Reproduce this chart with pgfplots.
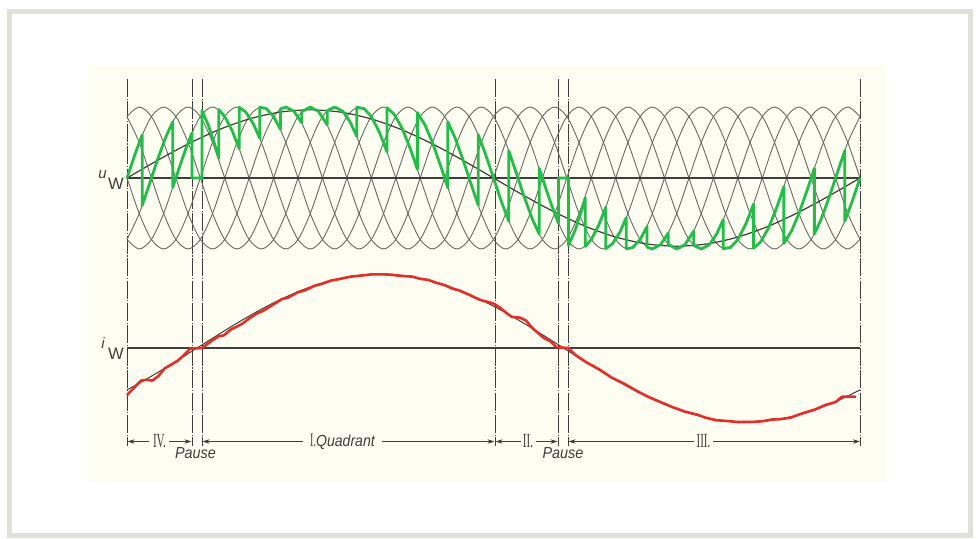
\documentclass[border=0pt]{standalone}
\usepackage{pgfplots}
\pgfplotsset{compat=1.18}
\usepackage{pgfplotstable}
\usepackage{graphicx}
\usepackage{fontspec}
\setmainfont{Liberation Serif}
\setsansfont{Liberation Sans}
\usetikzlibrary{arrows.meta}
\definecolor{frame}{RGB}{224,225,217}
\definecolor{cream}{RGB}{253,253,242}
\definecolor{latt}{RGB}{105,105,100}
\definecolor{grn}{RGB}{34,190,72}
\definecolor{rd}{RGB}{228,46,40}
\definecolor{ink}{RGB}{62,62,60}

% six phase voltages of the supply (amplitude 1), x in output degrees
\pgfplotstableread{
x k0 k1 k2 k3 k4 k5
0 0 -0.866 -0.866 0 0.866 0.866
6 0.5 -0.5 -1 -0.5 0.5 1
12 0.866 0 -0.866 -0.866 0 0.866
18 1 0.5 -0.5 -1 -0.5 0.5
24 0.866 0.866 0 -0.866 -0.866 0
30 0.5 1 0.5 -0.5 -1 -0.5
36 0 0.866 0.866 0 -0.866 -0.866
42 -0.5 0.5 1 0.5 -0.5 -1
48 -0.866 0 0.866 0.866 0 -0.866
54 -1 -0.5 0.5 1 0.5 -0.5
60 -0.866 -0.866 0 0.866 0.866 0
66 -0.5 -1 -0.5 0.5 1 0.5
72 0 -0.866 -0.866 0 0.866 0.866
78 0.5 -0.5 -1 -0.5 0.5 1
84 0.866 0 -0.866 -0.866 0 0.866
90 1 0.5 -0.5 -1 -0.5 0.5
96 0.866 0.866 0 -0.866 -0.866 0
102 0.5 1 0.5 -0.5 -1 -0.5
108 0 0.866 0.866 0 -0.866 -0.866
114 -0.5 0.5 1 0.5 -0.5 -1
120 -0.866 0 0.866 0.866 0 -0.866
126 -1 -0.5 0.5 1 0.5 -0.5
132 -0.866 -0.866 0 0.866 0.866 0
138 -0.5 -1 -0.5 0.5 1 0.5
144 0 -0.866 -0.866 0 0.866 0.866
150 0.5 -0.5 -1 -0.5 0.5 1
156 0.866 0 -0.866 -0.866 0 0.866
162 1 0.5 -0.5 -1 -0.5 0.5
168 0.866 0.866 0 -0.866 -0.866 0
174 0.5 1 0.5 -0.5 -1 -0.5
180 0 0.866 0.866 0 -0.866 -0.866
186 -0.5 0.5 1 0.5 -0.5 -1
192 -0.866 0 0.866 0.866 0 -0.866
198 -1 -0.5 0.5 1 0.5 -0.5
204 -0.866 -0.866 0 0.866 0.866 0
210 -0.5 -1 -0.5 0.5 1 0.5
216 0 -0.866 -0.866 0 0.866 0.866
222 0.5 -0.5 -1 -0.5 0.5 1
228 0.866 0 -0.866 -0.866 0 0.866
234 1 0.5 -0.5 -1 -0.5 0.5
240 0.866 0.866 0 -0.866 -0.866 0
246 0.5 1 0.5 -0.5 -1 -0.5
252 0 0.866 0.866 0 -0.866 -0.866
258 -0.5 0.5 1 0.5 -0.5 -1
264 -0.866 0 0.866 0.866 0 -0.866
270 -1 -0.5 0.5 1 0.5 -0.5
276 -0.866 -0.866 0 0.866 0.866 0
282 -0.5 -1 -0.5 0.5 1 0.5
288 0 -0.866 -0.866 0 0.866 0.866
294 0.5 -0.5 -1 -0.5 0.5 1
300 0.866 0 -0.866 -0.866 0 0.866
306 1 0.5 -0.5 -1 -0.5 0.5
312 0.866 0.866 0 -0.866 -0.866 0
318 0.5 1 0.5 -0.5 -1 -0.5
324 0 0.866 0.866 0 -0.866 -0.866
330 -0.5 0.5 1 0.5 -0.5 -1
336 -0.866 0 0.866 0.866 0 -0.866
342 -1 -0.5 0.5 1 0.5 -0.5
348 -0.866 -0.866 0 0.866 0.866 0
354 -0.5 -1 -0.5 0.5 1 0.5
360 0 -0.866 -0.866 0 0.866 0.866
}\lattice

\pgfplotsset{full/.style={width=489pt,height=268.5pt,scale only axis,
  at={(0,0)},anchor=south west,hide axis,clip=false}}
\tikzset{vl/.style={ink,line width=0.45pt,dash pattern=on 9pt off 0.8pt on 0.6pt off 0.8pt},
  arr/.style={ink,line width=0.4pt,-{Stealth[length=3.5pt,width=2.2pt]}},
  num/.style={text=ink,font=\rmfamily\fontsize{10}{11}\selectfont}}

\begin{document}
\begin{tikzpicture}
% ---------- pixel frame: decorations and text ----------
\begin{axis}[full,xmin=0,xmax=978,ymin=-537,ymax=0]
\fill[white] (axis cs:0,0) rectangle (axis cs:978,-537);
\draw[frame,line width=2.5pt] (axis cs:9.5,-11.5) rectangle (axis cs:970.5,-535.5);
\fill[cream] (axis cs:88,-66) rectangle (axis cs:887,-482);
\draw[vl] (axis cs:127,-79) -- (axis cs:127,-446);
\draw[vl] (axis cs:192,-79) -- (axis cs:192,-446);
\draw[vl] (axis cs:202,-79) -- (axis cs:202,-446);
\draw[vl] (axis cs:495,-79) -- (axis cs:495,-446);
\draw[vl] (axis cs:558,-79) -- (axis cs:558,-446);
\draw[vl] (axis cs:568,-79) -- (axis cs:568,-446);
\draw[vl] (axis cs:860.5,-79) -- (axis cs:860.5,-446);
\draw[arr] (axis cs:149,-441.5) -- (axis cs:127.5,-441.5);
\draw[arr] (axis cs:169,-441.5) -- (axis cs:191.5,-441.5);
\draw[arr] (axis cs:303,-441.5) -- (axis cs:202.5,-441.5);
\draw[arr] (axis cs:382,-441.5) -- (axis cs:494.5,-441.5);
\draw[arr] (axis cs:521,-441.5) -- (axis cs:495.5,-441.5);
\draw[arr] (axis cs:536,-441.5) -- (axis cs:557.5,-441.5);
\draw[arr] (axis cs:694,-441.5) -- (axis cs:568.5,-441.5);
\draw[arr] (axis cs:713,-441.5) -- (axis cs:860,-441.5);
\node[num] at (axis cs:159.5,-441.5) {\scalebox{0.55}[1]{IV.}};
\node[num] at (axis cs:528,-441.5) {\scalebox{0.55}[1]{II.}};
\node[num] at (axis cs:703.5,-441.5) {\scalebox{0.55}[1]{III.}};
\node[text=ink,font=\fontsize{8}{9}\selectfont] at (axis cs:342.5,-441.5) {\scalebox{0.88}[1]{\rmfamily\fontsize{9.5}{10}\selectfont\scalebox{0.6}[1]{I.}\sffamily\itshape\fontsize{8}{9}\selectfont Quadrant}};
\node[text=ink,font=\sffamily\itshape\fontsize{8}{9}\selectfont] at (axis cs:195.5,-453) {\scalebox{0.9}[1]{Pause}};
\node[text=ink,font=\sffamily\itshape\fontsize{8}{9}\selectfont] at (axis cs:563,-453) {\scalebox{0.9}[1]{Pause}};
\node[text=ink,font=\sffamily\itshape\fontsize{7.5}{8}\selectfont] at (axis cs:102.5,-175) {u};
\node[text=ink,font=\sffamily\fontsize{8.3}{9}\selectfont] at (axis cs:116,-184) {W};
\node[text=ink,font=\sffamily\itshape\fontsize{7.5}{8}\selectfont] at (axis cs:103,-343.5) {i};
\node[text=ink,font=\sffamily\fontsize{8.3}{9}\selectfont] at (axis cs:116,-354) {W};
\end{axis}

% ---------- upper panel: voltages ----------
\begin{axis}[full,xmin=-62.374,xmax=417.95,ymin=-5.0563,ymax=2.5070]
\pgfplotsinvokeforeach{k0,k1,k2,k3,k4,k5}{
  \addplot[latt,line width=0.45pt,smooth] table[x=x,y=#1]{\lattice};
}
\addplot[ink,line width=0.75pt] coordinates {(0,0) (360,0)};
\addplot[ink,line width=0.6pt,smooth] coordinates {
(0,0) (15,0.2485) (30,0.48) (45,0.6788) (60,0.8314) (75,0.9273) (90,0.96)
(105,0.9273) (120,0.8314) (135,0.6788) (150,0.48) (165,0.2485) (180,0)
(195,-0.2485) (210,-0.48) (225,-0.6788) (240,-0.8314) (255,-0.9273) (270,-0.96)
(285,-0.9273) (300,-0.8314) (315,-0.6788) (330,-0.48) (345,-0.2485) (360,0)};
\addplot[grn,line width=1.4pt,line join=round] coordinates {
(0,0) (4,0.342) (7.48,0.6074) (7.48,-0.3840) (11,-0.0872) (15,0.2588) (19,0.5736) (22.43,0.7894)
(22.43,-0.1362) (26,0.1736) (29,0.4226) (31.9,0.6361) (31.9,0) (36.8,0)
(36.8,0.95) (40,0.74) (43,0.48) (45.09,0.28)
(45.09,0.9639) (48,0.8660) (51.6,0.6691) (55.13,0.4124)
(55.13,0.9951) (58.4,0.9272) (62,0.7660) (65.21,0.5584)
(65.21,0.9976) (68.4,0.9781) (72,0.8660) (75.35,0.6848)
(75.35,0.9733) (78,1) (82,0.9397) (85.81,0.7762)
(85.81,0.9338) (90,1) (94,0.9397) (98.31,0.7481)
(98.31,0.9485) (102,1) (106,0.9397) (109.6,0.7880) (112.82,0.5864)
(112.82,0.9947) (116.4,0.9781) (120,0.8660) (124,0.6428) (127.68,0.3681)
(127.68,0.9893) (131.2,0.8988) (135,0.7071) (139,0.4226) (142.61,0.1210)
(142.61,0.9203) (146.4,0.7431) (150,0.5) (154,0.1736) (157.57,-0.1366)
(157.57,0.7896) (161,0.5736) (165,0.2588) (169,-0.0872) (172.52,-0.3843)
(172.52,0.6075) (176,0.3420) (180,0) (184,-0.3420) (187.48,-0.6074)
(187.48,0.3840) (191,0.0872) (195,-0.2588) (199,-0.5736) (202.43,-0.7894)
(202.43,0.1362) (206,-0.1736) (209,-0.4226) (211.9,-0.6361) (211.9,0) (216.8,0)
(216.8,-0.95) (220,-0.74) (223,-0.48) (225.09,-0.28)
(225.09,-0.9639) (228,-0.8660) (231.6,-0.6691) (235.13,-0.4124)
(235.13,-0.9951) (238.4,-0.9272) (242,-0.7660) (245.21,-0.5584)
(245.21,-0.9976) (248.4,-0.9781) (252,-0.8660) (255.35,-0.6848)
(255.35,-0.9733) (258,-1) (262,-0.9397) (265.81,-0.7762)
(265.81,-0.9338) (270,-1) (274,-0.9397) (278.31,-0.7481)
(278.31,-0.9485) (282,-1) (286,-0.9397) (289.6,-0.7880) (292.82,-0.5864)
(292.82,-0.9947) (296.4,-0.9781) (300,-0.8660) (304,-0.6428) (307.68,-0.3681)
(307.68,-0.9893) (311.2,-0.8988) (315,-0.7071) (319,-0.4226) (322.61,-0.1210)
(322.61,-0.9203) (326.4,-0.7431) (330,-0.5) (334,-0.1736) (337.57,0.1366)
(337.57,-0.7896) (341,-0.5736) (345,-0.2588) (349,0.0872) (352.52,0.3843)
(352.52,-0.6075) (356,-0.3420) (360,0)};
\end{axis}

% ---------- lower panel: current ----------
\begin{axis}[full,xmin=-62.374,xmax=417.95,ymin=-2.5541,ymax=4.7027]
\addplot[ink,line width=0.75pt] coordinates {(0,0) (360,0)};
\addplot[ink,line width=0.5pt,smooth] coordinates {
(0,-0.5650) (6,-0.4756) (12,-0.3811) (18,-0.2823) (24,-0.1805) (30,-0.0767)
(36,0.0279) (42,0.1323) (48,0.2351) (54,0.3355) (60,0.4321) (66,0.5240)
(72,0.6101) (78,0.6896) (84,0.7615) (90,0.8251) (96,0.8796) (102,0.9245)
(108,0.9593) (114,0.9836) (120,0.9971) (126,0.9996) (132,0.9912) (138,0.9720)
(144,0.9421) (150,0.9018) (156,0.8517) (162,0.7923) (168,0.7242) (174,0.6481)
(180,0.5650) (186,0.4756) (192,0.3811) (198,0.2823) (204,0.1805) (210,0.0767)
(216,-0.0279) (222,-0.1323) (228,-0.2351) (234,-0.3355) (240,-0.4321) (246,-0.5240)
(252,-0.6101) (258,-0.6896) (264,-0.7615) (270,-0.8251) (276,-0.8796) (282,-0.9245)
(288,-0.9593) (294,-0.9836) (300,-0.9971) (306,-0.9996) (312,-0.9912) (318,-0.9720)
(324,-0.9421) (330,-0.9018) (336,-0.8517) (342,-0.7923) (348,-0.7242) (354,-0.6481)
(360,-0.5650)};
\addplot[rd,line width=1.3pt,line join=round] coordinates {
(0,-0.635) (3,-0.55) (7,-0.44) (9.5,-0.43) (12.5,-0.44) (15.5,-0.375) (18.5,-0.275)
(22,-0.22) (25,-0.17) (28,-0.095) (31,-0.01) (36.8,0) (41,0.085) (45,0.16)
(47.5,0.17) (51,0.25) (54,0.29) (57,0.335) (60,0.40) (64,0.47) (67,0.505)
(72,0.59) (76,0.66) (79,0.68) (84,0.755) (87,0.775) (92,0.84) (96,0.87)
(100,0.91) (104,0.93) (110,0.965) (114,0.975) (120,0.995) (126,0.995) (130,0.99)
(134,0.975) (140,0.965) (144,0.935) (148,0.92) (152,0.88) (156,0.85) (160,0.80)
(163,0.78) (168,0.72) (171,0.68) (174,0.645) (177,0.625) (180,0.60) (183,0.55)
(186.5,0.47) (189,0.42) (193,0.41) (196,0.37) (199,0.27) (202,0.20) (205,0.13)
(208,0.09) (211,0.01) (216.8,0) (220,-0.09) (226,-0.2) (232,-0.29) (238,-0.40)
(244,-0.48) (250,-0.575) (256,-0.66) (262,-0.73) (268,-0.80) (274,-0.86)
(280,-0.90) (284,-0.94) (289,-0.975) (294,-0.985) (300,-1.0) (306,-1.0)
(312,-0.99) (317,-0.965) (320,-0.965) (326,-0.94) (332,-0.88) (338,-0.83)
(343,-0.77) (348,-0.73) (351,-0.66) (354,-0.655) (358,-0.66)};
\end{axis}
\end{tikzpicture}
\end{document}
